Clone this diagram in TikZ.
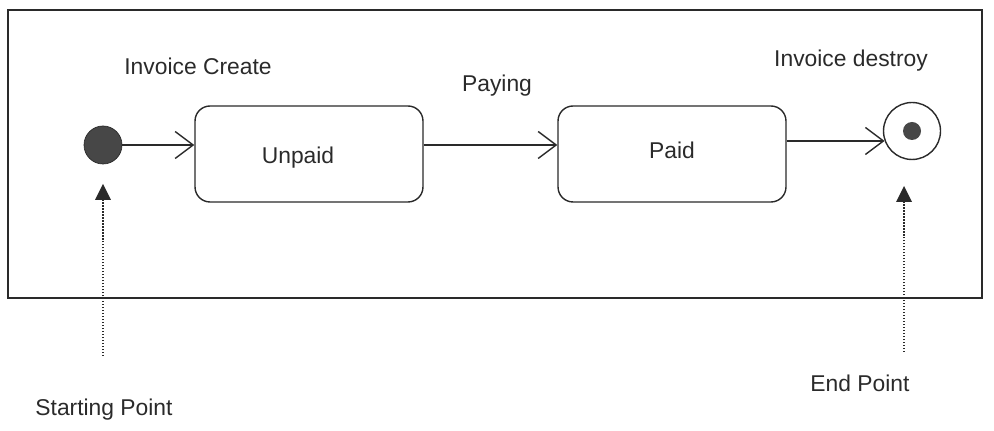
\documentclass[tikz,border=0pt]{standalone}
\usepackage{fontspec}
\setmainfont{Liberation Sans}
\usepackage{tikz}
\usetikzlibrary{arrows.meta}
\usetikzlibrary{calc}
\usetikzlibrary{positioning}
\definecolor{ink}{HTML}{2A2A2A}
\definecolor{dotfill}{HTML}{474747}

\begin{document}
\begin{tikzpicture}[
    x = 0.02cm, y = -0.02cm,
    every node/.style = {font=\fontsize{13}{15}\selectfont, text=ink},
    state/.style = {
      draw=ink, line width=0.8pt, rounded corners=0.3cm,
      minimum width=4.56cm, minimum height=1.92cm,
    },
    initial/.style = {circle, fill=dotfill, draw=ink, inner sep=0pt, minimum size=0.76cm},
    final/.style = {circle, draw=ink, line width=0.8pt, inner sep=0pt, minimum size=1.14cm},
    finaldot/.style = {circle, fill=dotfill, inner sep=0pt, minimum size=0.36cm},
    flow/.style = {draw=ink, line width=0.8pt, -{Straight Barb[length=3.6mm, width=5.4mm]}},
    pointer/.style = {draw=ink, densely dotted, line width=0.7pt,
      -{Triangle[length=3.2mm, width=3.2mm, line width=0pt]}},
  ]
  \useasboundingbox (0,0) rectangle (994,431);

  % frame
  \draw[ink, line width=1.1pt] (8,10) rectangle (982,298);

  % states
  \node[initial] (start) at (103,145) {};
  \node[state] (unpaid) at (309,154) {};
  \node at (298,158) {Unpaid};
  \node[state] (paid) at (672,154) {};
  \node at (672,150) {Paid};
  \node[final] (end) at (912,131) {};
  \node[finaldot] (enddot) at (end) {};

  % transition labels
  \node (create) at (198,66) {Invoice Create};
  \node (paying) at (497,86) {Paying};
  \node (destroy) at (851,61) {Invoice destroy};

  \begin{scope}[flow]
    \draw (start) -- (start -| unpaid.west);
    \draw (unpaid.east |- start) -- (paid.west |- start);
    \draw (paid.east |- end.200) -- (end.200);
  \end{scope}

  % pointers
  \coordinate (startfoot) at (103,356);
  \coordinate (starttip) at (103,184);
  \coordinate (endfoot) at (904,352);
  \coordinate (endtip) at (904,186);
  \begin{scope}[pointer]
    \draw (startfoot) -- (starttip);
    \draw (endfoot) -- (endtip);
  \end{scope}

  \node (startlabel) at (104,410) {Starting Point};
  \node (endlabel) at (860,383) {End Point};
\end{tikzpicture}
\end{document}
